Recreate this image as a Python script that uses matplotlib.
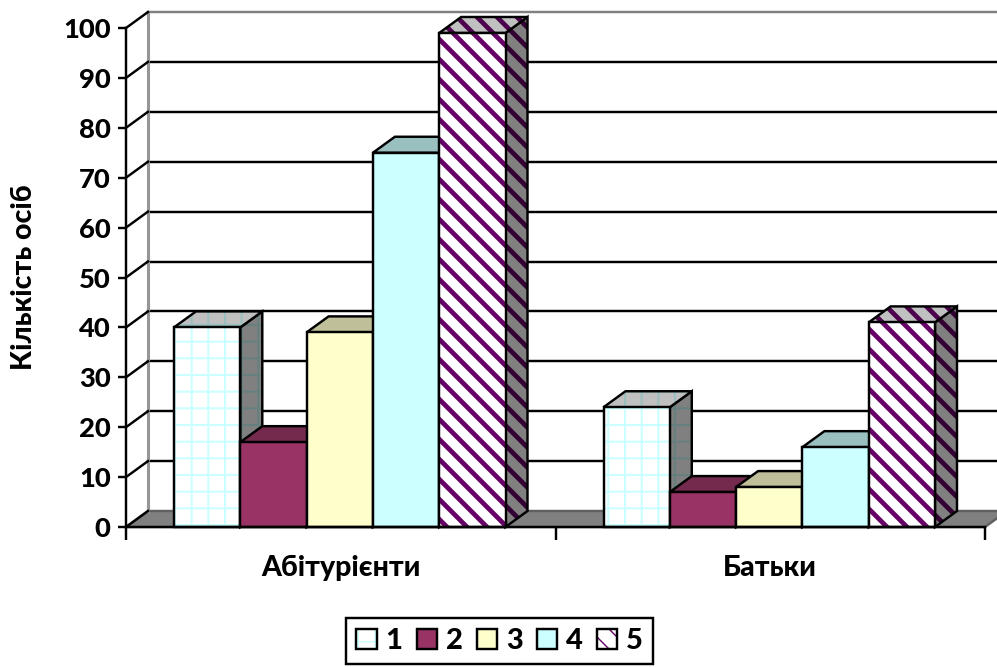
import matplotlib
matplotlib.use('Agg')
import matplotlib.pyplot as plt
from matplotlib import hatch as mhatch
from matplotlib.patches import Polygon, Patch

plt.rcParams['font.family'] = ['Lato', 'Noto Sans', 'DejaVu Sans']
plt.rcParams['font.weight'] = 'bold'
LW = 1.75
plt.rcParams['axes.linewidth'] = LW

# data
groups = ['Абітурієнти', 'Батьки']
series = ['1', '2', '3', '4', '5']
abiturients = [40, 17, 39, 75, 99]
parents = [24, 7, 8, 16, 41]
y_ticks = [0, 10, 20, 30, 40, 50, 60, 70, 80, 90, 100]

front_colors = ['white', '#993366', '#FFFFCC', '#CCFFFF', 'white']
top_colors = ['#C0C0C0', '#732A4D', '#BFBF99', '#99BFBF', '#C0C0C0']
side_colors = ['#808080', '#732A4D', '#BFBF99', '#99BFBF', '#808080']
hatches = ['+', None, None, None, '\\']
front_hatch = ['#CCFFFF', None, None, None, '#660066']
top_hatch = ['#99BFBF', None, None, None, '#4D004D']
side_hatch = ['#668080', None, None, None, '#330033']
hatch_lw = [1.5, 1, 1, 1, 3.4]


# the stock '\' hatch is too sparse, the doubled one too dense
class Stripes(mhatch.SouthEastHatch):
    def __init__(self, hatch, density):
        super().__init__(hatch, density)
        if self.num_lines:
            self.num_lines = 10
            self.num_vertices = (self.num_lines + 1) * 2


mhatch._hatch_types[mhatch._hatch_types.index(mhatch.SouthEastHatch)] = Stripes

W, H = 997, 667
fig = plt.figure(figsize=(W / 100, H / 100), dpi=100)
ax = fig.add_axes([126 / W, (H - 527) / H, 859 / W, 499 / H])
ax.set_xlim(0, 2)
ax.set_ylim(0, 100)
ax.patch.set_visible(False)

# depth of the fake 3d, in data units
dx = 22 / 429.5
dy = 16 / 4.99
bar_w = 66.3 / 429.5
start = 48 / 429.5


def face(pts, fc, hatch=None, hcolor=None, hlw=1, z=3, ec='black'):
    with plt.rc_context({'hatch.linewidth': hlw}):
        p = Polygon(pts, closed=True, facecolor=fc, edgecolor=ec, linewidth=LW,
                    hatch=hatch, clip_on=False, zorder=z, joinstyle='miter')
    if hcolor:
        p._hatch_color = matplotlib.colors.to_rgba(hcolor)
    ax.add_patch(p)
    return p


# walls and floor
face([(0, 0), (dx, dy), (2 + dx, dy), (2, 0)], '#808080', z=1, ec='#606060')
for v in y_ticks:
    col = '#808080' if v == 100 else 'black'
    if v > 0:
        ax.plot([dx, 2 + dx], [v + dy, v + dy], color=col, lw=LW, clip_on=False, zorder=1)
    ax.plot([0, dx], [v, v + dy], color='black', lw=LW, clip_on=False, zorder=1.5)
ax.plot([dx, dx], [dy, 100 + dy], color='#969696', lw=2.2, clip_on=False, zorder=1.2)

# bars
z = 3
for g, vals in enumerate([abiturients, parents]):
    for i, v in enumerate(vals):
        x0 = g + start + i * bar_w
        x1 = x0 + bar_w
        face([(x1, 0), (x1 + dx, dy), (x1 + dx, v + dy), (x1, v)], side_colors[i],
             hatches[i], side_hatch[i], hatch_lw[i], z)
        face([(x0, v), (x0 + dx, v + dy), (x1 + dx, v + dy), (x1, v)], top_colors[i],
             hatches[i], top_hatch[i], hatch_lw[i], z + 0.1)
        face([(x0, 0), (x0, v), (x1, v), (x1, 0)], front_colors[i],
             hatches[i], front_hatch[i], hatch_lw[i], z + 0.2)
        z += 1

for s in ['top', 'right']:
    ax.spines[s].set_visible(False)
for s in ['left', 'bottom']:
    ax.spines[s].set_zorder(50)

ax.set_yticks(y_ticks)
ax.tick_params(axis='y', labelsize=19.7, width=LW, length=6, pad=5, color='black')
ax.set_xticks([0, 1, 2])
ax.set_xticklabels([])
ax.tick_params(axis='x', which='major', width=LW, length=9)
ax.set_xticks([0.5, 1.5], minor=True)
ax.set_xticklabels(groups, minor=True, fontsize=20.5)
ax.tick_params(axis='x', which='minor', length=0, pad=20)
for lab in ax.get_yticklabels() + ax.get_xticklabels(minor=True):
    lab.set_fontweight('black')

fig.text(24 / W, 1 - 277 / H, 'Кількість осіб', rotation=90, fontsize=20.5,
         fontweight='black', ha='center', va='center')

# legend
handles = []
for i, name in enumerate(series):
    with plt.rc_context({'hatch.linewidth': hatch_lw[i]}):
        h = Patch(facecolor=front_colors[i], edgecolor='black', linewidth=LW,
                  hatch=hatches[i], label=name)
    if front_hatch[i]:
        h._hatch_color = matplotlib.colors.to_rgba(front_hatch[i])
    handles.append(h)
leg = fig.legend(handles=handles, ncols=5, loc='center', bbox_to_anchor=(499.5 / W, 1 - 641 / H),
                 prop={'size': 21, 'weight': 'black'}, frameon=True, fancybox=False,
                 edgecolor='black', framealpha=1, handlelength=0.7, handleheight=0.7,
                 handletextpad=0.3, columnspacing=0.48, borderpad=0.34, borderaxespad=0)
leg.get_frame().set_linewidth(LW)

fig.savefig('out.png', dpi=100)
